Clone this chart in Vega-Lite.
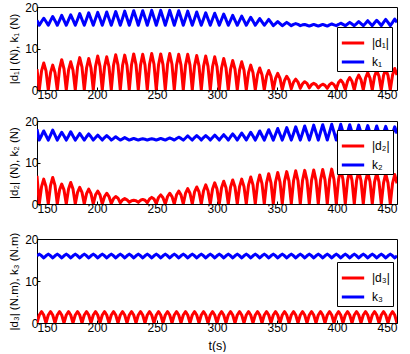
{
"$schema": "https://vega.github.io/schema/vega-lite/v6.json",
"padding": {"left": 8, "top": 0, "right": 0, "bottom": 0},
"spacing": 13,
"config": {
  "font": "Liberation Sans",
  "view": {"stroke": "#000", "strokeWidth": 1},
  "axis": {"grid": false, "domain": false, "ticks": true, "tickSize": -3, "tickColor": "#000", "labelFontSize": 12, "labelColor": "#000", "titleFontSize": 11.5, "titleFontWeight": "normal", "titleColor": "#000", "labelPadding": 2, "titlePadding": 5},
  "legend": {"orient": "none", "title": null, "fillColor": "white", "strokeColor": "#000", "padding": 3, "symbolType": "stroke", "symbolSize": 500, "symbolStrokeWidth": 3, "labelFontSize": 12, "labelColor": "#000", "rowPadding": 0, "labelOffset": 6}
},
"datasets": {
"p1": [
{"t":150,"d":5.0,"k":16.8},{"t":151.9,"d":0,"k":15.6},{"t":153.8,"d":4.6,"k":16.5},{"t":155.6,"d":6.5,"k":17.3},
{"t":157.5,"d":4.6,"k":16.5},{"t":159.4,"d":0,"k":15.6},{"t":161.3,"d":4.2,"k":16.7},{"t":163.1,"d":6.0,"k":17.7},
{"t":165,"d":4.2,"k":16.7},{"t":166.9,"d":0,"k":15.6},{"t":168.8,"d":5.1,"k":16.8},{"t":170.6,"d":7.3,"k":18.0},
{"t":172.5,"d":5.1,"k":16.8},{"t":174.4,"d":0,"k":15.6},{"t":176.3,"d":4.8,"k":16.9},{"t":178.1,"d":6.8,"k":18.1},
{"t":180,"d":4.8,"k":16.9},{"t":181.9,"d":0,"k":15.6},{"t":183.8,"d":5.5,"k":17.0},{"t":185.6,"d":7.8,"k":18.4},
{"t":187.5,"d":5.5,"k":17.0},{"t":189.4,"d":0,"k":15.6},{"t":191.3,"d":5.3,"k":17.1},{"t":193.1,"d":7.6,"k":18.6},
{"t":195,"d":5.3,"k":17.1},{"t":196.9,"d":0,"k":15.6},{"t":198.8,"d":5.7,"k":17.2},{"t":200.6,"d":8.2,"k":18.7},
{"t":202.5,"d":5.7,"k":17.2},{"t":204.4,"d":0,"k":15.6},{"t":206.3,"d":5.6,"k":17.2},{"t":208.1,"d":8.0,"k":18.8},
{"t":210,"d":5.6,"k":17.2},{"t":211.9,"d":0,"k":15.6},{"t":213.8,"d":6.0,"k":17.3},{"t":215.6,"d":8.5,"k":18.9},
{"t":217.5,"d":6.0,"k":17.3},{"t":219.4,"d":0,"k":15.6},{"t":221.3,"d":5.9,"k":17.3},{"t":223.1,"d":8.4,"k":19.0},
{"t":225,"d":5.9,"k":17.3},{"t":226.9,"d":0,"k":15.6},{"t":228.8,"d":6.1,"k":17.4},{"t":230.6,"d":8.7,"k":19.1},
{"t":232.5,"d":6.1,"k":17.4},{"t":234.4,"d":0,"k":15.6},{"t":236.3,"d":6.0,"k":17.4},{"t":238.1,"d":8.6,"k":19.1},
{"t":240,"d":6.0,"k":17.4},{"t":241.9,"d":0,"k":15.6},{"t":243.8,"d":6.2,"k":17.4},{"t":245.6,"d":8.8,"k":19.2},
{"t":247.5,"d":6.2,"k":17.4},{"t":249.4,"d":0,"k":15.6},{"t":251.3,"d":6.1,"k":17.4},{"t":253.1,"d":8.7,"k":19.2},
{"t":255,"d":6.1,"k":17.4},{"t":256.9,"d":0,"k":15.6},{"t":258.8,"d":6.2,"k":17.4},{"t":260.6,"d":8.8,"k":19.2},
{"t":262.5,"d":6.2,"k":17.4},{"t":264.4,"d":0,"k":15.6},{"t":266.3,"d":6.0,"k":17.4},{"t":268.1,"d":8.6,"k":19.1},
{"t":270,"d":6.0,"k":17.4},{"t":271.9,"d":0,"k":15.6},{"t":273.8,"d":6.0,"k":17.3},{"t":275.6,"d":8.6,"k":19.0},
{"t":277.5,"d":6.0,"k":17.3},{"t":279.4,"d":0,"k":15.6},{"t":281.3,"d":5.8,"k":17.2},{"t":283.1,"d":8.3,"k":18.8},
{"t":285,"d":5.8,"k":17.2},{"t":286.9,"d":0,"k":15.6},{"t":288.8,"d":5.7,"k":17.1},{"t":290.6,"d":8.2,"k":18.6},
{"t":292.5,"d":5.7,"k":17.1},{"t":294.4,"d":0,"k":15.6},{"t":296.3,"d":5.6,"k":17.1},{"t":298.1,"d":8.0,"k":18.5},
{"t":300,"d":5.6,"k":17.1},{"t":301.9,"d":0,"k":15.6},{"t":303.8,"d":5.3,"k":17.0},{"t":305.6,"d":7.6,"k":18.3},
{"t":307.5,"d":5.3,"k":17.0},{"t":309.4,"d":0,"k":15.6},{"t":311.3,"d":5.0,"k":16.8},{"t":313.1,"d":7.1,"k":18.0},
{"t":315,"d":5.0,"k":16.8},{"t":316.9,"d":0,"k":15.6},{"t":318.8,"d":4.8,"k":16.7},{"t":320.6,"d":6.8,"k":17.8},
{"t":322.5,"d":4.8,"k":16.7},{"t":324.4,"d":0,"k":15.6},{"t":326.3,"d":4.2,"k":16.6},{"t":328.1,"d":6.0,"k":17.5},
{"t":330,"d":4.2,"k":16.6},{"t":331.9,"d":0,"k":15.6},{"t":333.8,"d":3.7,"k":16.4},{"t":335.6,"d":5.3,"k":17.2},
{"t":337.5,"d":3.7,"k":16.4},{"t":339.4,"d":0,"k":15.6},{"t":341.3,"d":3.3,"k":16.3},{"t":343.1,"d":4.7,"k":17.0},
{"t":345,"d":3.3,"k":16.3},{"t":346.9,"d":0,"k":15.5},{"t":348.8,"d":2.8,"k":16.0},{"t":350.6,"d":4.0,"k":16.5},
{"t":352.5,"d":2.8,"k":16.0},{"t":354.4,"d":0.1,"k":15.5},{"t":356.3,"d":2.3,"k":15.9},{"t":358.1,"d":3.3,"k":16.3},
{"t":360,"d":2.4,"k":15.9},{"t":361.9,"d":0.3,"k":15.5},{"t":363.8,"d":1.9,"k":15.8},{"t":365.6,"d":2.6,"k":16.0},
{"t":367.5,"d":1.9,"k":15.8},{"t":369.4,"d":0.4,"k":15.5},{"t":371.3,"d":1.5,"k":15.7},{"t":373.1,"d":2.0,"k":15.8},
{"t":375,"d":1.6,"k":15.6},{"t":376.9,"d":0.5,"k":15.4},{"t":378.8,"d":1.3,"k":15.6},{"t":380.6,"d":1.6,"k":15.8},
{"t":382.5,"d":1.3,"k":15.6},{"t":384.4,"d":0.5,"k":15.4},{"t":386.3,"d":1.1,"k":15.6},{"t":388.1,"d":1.4,"k":15.8},
{"t":390,"d":1.1,"k":15.6},{"t":391.9,"d":0.4,"k":15.4},{"t":393.8,"d":1.3,"k":15.7},{"t":395.6,"d":1.7,"k":15.9},
{"t":397.5,"d":1.3,"k":15.7},{"t":399.4,"d":0.3,"k":15.5},{"t":401.3,"d":1.8,"k":15.8},{"t":403.1,"d":2.4,"k":16.1},
{"t":405,"d":1.7,"k":15.8},{"t":406.9,"d":0.1,"k":15.5},{"t":408.8,"d":2.1,"k":15.9},{"t":410.6,"d":3.0,"k":16.3},
{"t":412.5,"d":2.1,"k":15.9},{"t":414.4,"d":0,"k":15.5},{"t":416.3,"d":2.5,"k":16.0},{"t":418.1,"d":3.6,"k":16.5},
{"t":420,"d":2.5,"k":16.0},{"t":421.9,"d":0,"k":15.5},{"t":423.8,"d":2.9,"k":16.1},{"t":425.6,"d":4.2,"k":16.7},
{"t":427.5,"d":2.9,"k":16.1},{"t":429.4,"d":0,"k":15.5},{"t":431.3,"d":3.3,"k":16.2},{"t":433.1,"d":4.7,"k":16.8},
{"t":435,"d":3.3,"k":16.2},{"t":436.9,"d":0,"k":15.5},{"t":438.8,"d":3.5,"k":16.3},{"t":440.6,"d":5.0,"k":17.0},
{"t":442.5,"d":3.5,"k":16.3},{"t":444.4,"d":0,"k":15.5},{"t":446.3,"d":3.6,"k":16.3},{"t":448.1,"d":5.2,"k":17.1},
{"t":450,"d":3.6,"k":16.3}
],
"p2": [
{"t":150,"d":6.8,"k":18.0},{"t":151.9,"d":0,"k":15.4},{"t":153.8,"d":4.2,"k":16.5},{"t":155.6,"d":6.0,"k":17.6},
{"t":157.5,"d":4.2,"k":16.5},{"t":159.4,"d":0,"k":15.4},{"t":161.3,"d":4.5,"k":16.6},{"t":163.1,"d":6.4,"k":17.8},
{"t":165,"d":4.5,"k":16.6},{"t":166.9,"d":0,"k":15.4},{"t":168.8,"d":3.4,"k":16.4},{"t":170.6,"d":4.8,"k":17.3},
{"t":172.5,"d":3.4,"k":16.4},{"t":174.4,"d":0,"k":15.4},{"t":176.3,"d":3.6,"k":16.4},{"t":178.1,"d":5.2,"k":17.4},
{"t":180,"d":3.6,"k":16.4},{"t":181.9,"d":0,"k":15.4},{"t":183.8,"d":2.8,"k":16.2},{"t":185.6,"d":4.0,"k":17.0},
{"t":187.5,"d":2.8,"k":16.2},{"t":189.4,"d":0,"k":15.4},{"t":191.3,"d":2.5,"k":16.2},{"t":193.1,"d":3.6,"k":16.9},
{"t":195,"d":2.5,"k":16.2},{"t":196.9,"d":0,"k":15.4},{"t":198.8,"d":2.2,"k":16.0},{"t":200.6,"d":3.1,"k":16.6},
{"t":202.5,"d":2.2,"k":16.0},{"t":204.4,"d":0,"k":15.4},{"t":206.3,"d":1.8,"k":16.0},{"t":208.1,"d":2.6,"k":16.5},
{"t":210,"d":1.8,"k":16.0},{"t":211.9,"d":0.1,"k":15.4},{"t":213.8,"d":1.3,"k":15.8},{"t":215.6,"d":1.8,"k":16.2},
{"t":217.5,"d":1.4,"k":15.8},{"t":219.4,"d":0.3,"k":15.4},{"t":221.3,"d":1.0,"k":15.7},{"t":223.1,"d":1.3,"k":16.0},
{"t":225,"d":1.0,"k":15.7},{"t":226.9,"d":0.4,"k":15.4},{"t":228.8,"d":0.8,"k":15.6},{"t":230.6,"d":0.9,"k":15.8},
{"t":232.5,"d":0.8,"k":15.6},{"t":234.4,"d":0.4,"k":15.4},{"t":236.3,"d":0.9,"k":15.6},{"t":238.1,"d":1.1,"k":15.7},
{"t":240,"d":0.9,"k":15.6},{"t":241.9,"d":0.3,"k":15.4},{"t":243.8,"d":1.2,"k":15.6},{"t":245.6,"d":1.6,"k":15.7},
{"t":247.5,"d":1.2,"k":15.6},{"t":249.4,"d":0.1,"k":15.4},{"t":251.3,"d":1.6,"k":15.6},{"t":253.1,"d":2.2,"k":15.8},
{"t":255,"d":1.5,"k":15.6},{"t":256.9,"d":0,"k":15.4},{"t":258.8,"d":1.8,"k":15.7},{"t":260.6,"d":2.6,"k":15.9},
{"t":262.5,"d":1.8,"k":15.7},{"t":264.4,"d":0,"k":15.4},{"t":266.3,"d":2.2,"k":15.8},{"t":268.1,"d":3.1,"k":16.1},
{"t":270,"d":2.2,"k":15.8},{"t":271.9,"d":0,"k":15.4},{"t":273.8,"d":2.6,"k":15.9},{"t":275.6,"d":3.7,"k":16.4},
{"t":277.5,"d":2.6,"k":15.9},{"t":279.4,"d":0,"k":15.4},{"t":281.3,"d":2.9,"k":16.0},{"t":283.1,"d":4.1,"k":16.5},
{"t":285,"d":2.9,"k":16.0},{"t":286.9,"d":0,"k":15.4},{"t":288.8,"d":3.2,"k":16.0},{"t":290.6,"d":4.6,"k":16.5},
{"t":292.5,"d":3.2,"k":16.0},{"t":294.4,"d":0,"k":15.4},{"t":296.3,"d":3.6,"k":16.0},{"t":298.1,"d":5.1,"k":16.6},
{"t":300,"d":3.6,"k":16.0},{"t":301.9,"d":0,"k":15.4},{"t":303.8,"d":3.9,"k":16.1},{"t":305.6,"d":5.5,"k":16.7},
{"t":307.5,"d":3.9,"k":16.1},{"t":309.4,"d":0,"k":15.4},{"t":311.3,"d":4.1,"k":16.2},{"t":313.1,"d":5.8,"k":16.9},
{"t":315,"d":4.1,"k":16.2},{"t":316.9,"d":0,"k":15.4},{"t":318.8,"d":4.2,"k":16.3},{"t":320.6,"d":6.0,"k":17.1},
{"t":322.5,"d":4.2,"k":16.3},{"t":324.4,"d":0,"k":15.4},{"t":326.3,"d":4.6,"k":16.4},{"t":328.1,"d":6.5,"k":17.3},
{"t":330,"d":4.6,"k":16.4},{"t":331.9,"d":0,"k":15.4},{"t":333.8,"d":4.9,"k":16.5},{"t":335.6,"d":7.0,"k":17.6},
{"t":337.5,"d":4.9,"k":16.5},{"t":339.4,"d":0,"k":15.4},{"t":341.3,"d":5.1,"k":16.7},{"t":343.1,"d":7.3,"k":17.9},
{"t":345,"d":5.1,"k":16.7},{"t":346.9,"d":0,"k":15.4},{"t":348.8,"d":5.3,"k":16.8},{"t":350.6,"d":7.6,"k":18.2},
{"t":352.5,"d":5.3,"k":16.8},{"t":354.4,"d":0,"k":15.4},{"t":356.3,"d":5.5,"k":16.9},{"t":358.1,"d":7.8,"k":18.4},
{"t":360,"d":5.5,"k":16.9},{"t":361.9,"d":0,"k":15.4},{"t":363.8,"d":5.6,"k":17.0},{"t":365.6,"d":8.0,"k":18.6},
{"t":367.5,"d":5.6,"k":17.0},{"t":369.4,"d":0,"k":15.4},{"t":371.3,"d":5.7,"k":17.1},{"t":373.1,"d":8.1,"k":18.8},
{"t":375,"d":5.7,"k":17.1},{"t":376.9,"d":0,"k":15.4},{"t":378.8,"d":5.7,"k":17.2},{"t":380.6,"d":8.2,"k":19.0},
{"t":382.5,"d":5.7,"k":17.2},{"t":384.4,"d":0,"k":15.4},{"t":386.3,"d":5.8,"k":17.3},{"t":388.1,"d":8.3,"k":19.1},
{"t":390,"d":5.8,"k":17.3},{"t":391.9,"d":0,"k":15.4},{"t":393.8,"d":5.9,"k":17.3},{"t":395.6,"d":8.4,"k":19.2},
{"t":397.5,"d":5.9,"k":17.3},{"t":399.4,"d":0,"k":15.4},{"t":401.3,"d":5.9,"k":17.3},{"t":403.1,"d":8.4,"k":19.2},
{"t":405,"d":5.9,"k":17.3},{"t":406.9,"d":0,"k":15.4},{"t":408.8,"d":5.7,"k":17.3},{"t":410.6,"d":8.2,"k":19.1},
{"t":412.5,"d":5.7,"k":17.3},{"t":414.4,"d":0,"k":15.4},{"t":416.3,"d":5.6,"k":17.2},{"t":418.1,"d":8.0,"k":19.0},
{"t":420,"d":5.6,"k":17.2},{"t":421.9,"d":0,"k":15.4},{"t":423.8,"d":5.4,"k":17.2},{"t":425.6,"d":7.7,"k":18.9},
{"t":427.5,"d":5.4,"k":17.2},{"t":429.4,"d":0,"k":15.4},{"t":431.3,"d":5.3,"k":17.1},{"t":433.1,"d":7.5,"k":18.8},
{"t":435,"d":5.3,"k":17.1},{"t":436.9,"d":0,"k":15.4},{"t":438.8,"d":5.1,"k":17.1},{"t":440.6,"d":7.3,"k":18.7},
{"t":442.5,"d":5.1,"k":17.1},{"t":444.4,"d":0,"k":15.4},{"t":446.3,"d":5.0,"k":17.0},{"t":448.1,"d":7.1,"k":18.6},
{"t":450,"d":5.0,"k":17.0}
],
"p3": [
{"t":150,"d":0,"k":16.0},{"t":151.9,"d":1.9,"k":16.4},{"t":153.8,"d":2.7,"k":16.0},{"t":155.6,"d":1.9,"k":15.5},
{"t":157.5,"d":0,"k":16.0},{"t":159.4,"d":1.9,"k":16.4},{"t":161.3,"d":2.7,"k":16.0},{"t":163.1,"d":1.9,"k":15.5},
{"t":165,"d":0,"k":16.0},{"t":166.9,"d":1.9,"k":16.4},{"t":168.8,"d":2.7,"k":16.0},{"t":170.6,"d":1.9,"k":15.5},
{"t":172.5,"d":0,"k":16.0},{"t":174.4,"d":1.9,"k":16.4},{"t":176.3,"d":2.7,"k":16.0},{"t":178.1,"d":1.9,"k":15.5},
{"t":180,"d":0,"k":16.0},{"t":181.9,"d":1.9,"k":16.4},{"t":183.8,"d":2.7,"k":16.0},{"t":185.6,"d":1.9,"k":15.5},
{"t":187.5,"d":0,"k":16.0},{"t":189.4,"d":1.9,"k":16.4},{"t":191.3,"d":2.7,"k":16.0},{"t":193.1,"d":1.9,"k":15.5},
{"t":195,"d":0,"k":16.0},{"t":196.9,"d":1.9,"k":16.4},{"t":198.8,"d":2.7,"k":16.0},{"t":200.6,"d":1.9,"k":15.5},
{"t":202.5,"d":0,"k":16.0},{"t":204.4,"d":1.9,"k":16.4},{"t":206.3,"d":2.7,"k":16.0},{"t":208.1,"d":1.9,"k":15.5},
{"t":210,"d":0,"k":16.0},{"t":211.9,"d":1.9,"k":16.4},{"t":213.8,"d":2.7,"k":16.0},{"t":215.6,"d":1.9,"k":15.5},
{"t":217.5,"d":0,"k":16.0},{"t":219.4,"d":1.9,"k":16.4},{"t":221.3,"d":2.7,"k":16.0},{"t":223.1,"d":1.9,"k":15.5},
{"t":225,"d":0,"k":16.0},{"t":226.9,"d":1.9,"k":16.4},{"t":228.8,"d":2.7,"k":16.0},{"t":230.6,"d":1.9,"k":15.5},
{"t":232.5,"d":0,"k":16.0},{"t":234.4,"d":1.9,"k":16.4},{"t":236.3,"d":2.7,"k":16.0},{"t":238.1,"d":1.9,"k":15.5},
{"t":240,"d":0,"k":16.0},{"t":241.9,"d":1.9,"k":16.4},{"t":243.8,"d":2.7,"k":16.0},{"t":245.6,"d":1.9,"k":15.5},
{"t":247.5,"d":0,"k":16.0},{"t":249.4,"d":1.9,"k":16.4},{"t":251.3,"d":2.7,"k":16.0},{"t":253.1,"d":1.9,"k":15.5},
{"t":255,"d":0,"k":16.0},{"t":256.9,"d":1.9,"k":16.4},{"t":258.8,"d":2.7,"k":16.0},{"t":260.6,"d":1.9,"k":15.5},
{"t":262.5,"d":0,"k":16.0},{"t":264.4,"d":1.9,"k":16.4},{"t":266.3,"d":2.7,"k":16.0},{"t":268.1,"d":1.9,"k":15.5},
{"t":270,"d":0,"k":16.0},{"t":271.9,"d":1.9,"k":16.4},{"t":273.8,"d":2.7,"k":16.0},{"t":275.6,"d":1.9,"k":15.5},
{"t":277.5,"d":0,"k":16.0},{"t":279.4,"d":1.9,"k":16.4},{"t":281.3,"d":2.7,"k":16.0},{"t":283.1,"d":1.9,"k":15.5},
{"t":285,"d":0,"k":16.0},{"t":286.9,"d":1.9,"k":16.4},{"t":288.8,"d":2.7,"k":16.0},{"t":290.6,"d":1.9,"k":15.5},
{"t":292.5,"d":0,"k":16.0},{"t":294.4,"d":1.9,"k":16.4},{"t":296.3,"d":2.7,"k":16.0},{"t":298.1,"d":1.9,"k":15.5},
{"t":300,"d":0,"k":16.0},{"t":301.9,"d":1.9,"k":16.4},{"t":303.8,"d":2.7,"k":16.0},{"t":305.6,"d":1.9,"k":15.5},
{"t":307.5,"d":0,"k":16.0},{"t":309.4,"d":1.9,"k":16.4},{"t":311.3,"d":2.7,"k":16.0},{"t":313.1,"d":1.9,"k":15.5},
{"t":315,"d":0,"k":16.0},{"t":316.9,"d":1.9,"k":16.4},{"t":318.8,"d":2.7,"k":16.0},{"t":320.6,"d":1.9,"k":15.5},
{"t":322.5,"d":0,"k":16.0},{"t":324.4,"d":1.9,"k":16.4},{"t":326.3,"d":2.7,"k":16.0},{"t":328.1,"d":1.9,"k":15.5},
{"t":330,"d":0,"k":16.0},{"t":331.9,"d":1.9,"k":16.4},{"t":333.8,"d":2.7,"k":16.0},{"t":335.6,"d":1.9,"k":15.5},
{"t":337.5,"d":0,"k":16.0},{"t":339.4,"d":1.9,"k":16.4},{"t":341.3,"d":2.7,"k":16.0},{"t":343.1,"d":1.9,"k":15.5},
{"t":345,"d":0,"k":16.0},{"t":346.9,"d":1.9,"k":16.4},{"t":348.8,"d":2.7,"k":16.0},{"t":350.6,"d":1.9,"k":15.5},
{"t":352.5,"d":0,"k":16.0},{"t":354.4,"d":1.9,"k":16.4},{"t":356.3,"d":2.7,"k":16.0},{"t":358.1,"d":1.9,"k":15.5},
{"t":360,"d":0,"k":16.0},{"t":361.9,"d":1.9,"k":16.4},{"t":363.8,"d":2.7,"k":16.0},{"t":365.6,"d":1.9,"k":15.5},
{"t":367.5,"d":0,"k":16.0},{"t":369.4,"d":1.9,"k":16.4},{"t":371.3,"d":2.7,"k":16.0},{"t":373.1,"d":1.9,"k":15.5},
{"t":375,"d":0,"k":16.0},{"t":376.9,"d":1.9,"k":16.4},{"t":378.8,"d":2.7,"k":16.0},{"t":380.6,"d":1.9,"k":15.5},
{"t":382.5,"d":0,"k":16.0},{"t":384.4,"d":1.9,"k":16.4},{"t":386.3,"d":2.7,"k":16.0},{"t":388.1,"d":1.9,"k":15.5},
{"t":390,"d":0,"k":16.0},{"t":391.9,"d":1.9,"k":16.4},{"t":393.8,"d":2.7,"k":16.0},{"t":395.6,"d":1.9,"k":15.5},
{"t":397.5,"d":0,"k":16.0},{"t":399.4,"d":1.9,"k":16.4},{"t":401.3,"d":2.7,"k":16.0},{"t":403.1,"d":1.9,"k":15.5},
{"t":405,"d":0,"k":16.0},{"t":406.9,"d":1.9,"k":16.4},{"t":408.8,"d":2.7,"k":16.0},{"t":410.6,"d":1.9,"k":15.5},
{"t":412.5,"d":0,"k":16.0},{"t":414.4,"d":1.9,"k":16.4},{"t":416.3,"d":2.7,"k":16.0},{"t":418.1,"d":1.9,"k":15.5},
{"t":420,"d":0,"k":16.0},{"t":421.9,"d":1.9,"k":16.4},{"t":423.8,"d":2.7,"k":16.0},{"t":425.6,"d":1.9,"k":15.5},
{"t":427.5,"d":0,"k":16.0},{"t":429.4,"d":1.9,"k":16.4},{"t":431.3,"d":2.7,"k":16.0},{"t":433.1,"d":1.9,"k":15.5},
{"t":435,"d":0,"k":16.0},{"t":436.9,"d":1.9,"k":16.4},{"t":438.8,"d":2.7,"k":16.0},{"t":440.6,"d":1.9,"k":15.5},
{"t":442.5,"d":0,"k":16.0},{"t":444.4,"d":1.9,"k":16.4},{"t":446.3,"d":2.7,"k":16.0},{"t":448.1,"d":1.9,"k":15.5},
{"t":450,"d":0,"k":16.0}
]
},
"resolve": {"scale": {"color": "independent"}, "legend": {"color": "independent"}},
"vconcat": [
{
 "width": 360, "height": 83,
 "data": {"name": "p1"},
 "transform": [{"fold": ["d", "k"], "as": ["s", "v"]}],
 "mark": {"type": "line", "strokeWidth": 3, "strokeJoin": "round", "clip": true},
 "encoding": {
  "x": {"field": "t", "type": "quantitative", "scale": {"domain": [150, 450], "nice": false}, "axis": {"values": [150, 200, 250, 300, 350, 400, 450], "title": null}},
  "y": {"field": "v", "type": "quantitative", "scale": {"domain": [0, 20], "nice": false}, "axis": {"values": [0, 10, 20], "title": "|d₁| (N), k₁ (N)"}},
  "color": {"field": "s", "type": "nominal", "scale": {"domain": ["d", "k"], "range": ["#ff0000", "#0000ff"]}, "legend": {"legendX": 300, "legendY": 20, "labelExpr": "datum.label == 'd' ? '|d₁|' : 'k₁'"}}
 }
},
{
 "spacing": 16,
 "resolve": {"scale": {"color": "independent"}, "legend": {"color": "independent"}},
 "vconcat": [
 {
  "width": 360, "height": 83,
  "data": {"name": "p2"},
  "transform": [{"fold": ["d", "k"], "as": ["s", "v"]}],
  "mark": {"type": "line", "strokeWidth": 3, "strokeJoin": "round", "clip": true},
  "encoding": {
   "x": {"field": "t", "type": "quantitative", "scale": {"domain": [150, 450], "nice": false}, "axis": {"values": [150, 200, 250, 300, 350, 400, 450], "title": null}},
   "y": {"field": "v", "type": "quantitative", "scale": {"domain": [0, 20], "nice": false}, "axis": {"values": [0, 10, 20], "title": "|d₂| (N), k₂ (N)"}},
   "color": {"field": "s", "type": "nominal", "scale": {"domain": ["d", "k"], "range": ["#ff0000", "#0000ff"]}, "legend": {"legendX": 300, "legendY": 9, "labelExpr": "datum.label == 'd' ? '|d₂|' : 'k₂'"}}
  }
 },
 {
  "width": 360, "height": 84,
  "data": {"name": "p3"},
  "transform": [{"fold": ["d", "k"], "as": ["s", "v"]}],
  "mark": {"type": "line", "strokeWidth": 3, "strokeJoin": "round", "clip": true},
  "encoding": {
   "x": {"field": "t", "type": "quantitative", "scale": {"domain": [150, 450], "nice": false}, "axis": {"values": [150, 200, 250, 300, 350, 400, 450], "title": "t(s)", "titleFontSize": 12.5, "titlePadding": 6}},
   "y": {"field": "v", "type": "quantitative", "scale": {"domain": [0, 20], "nice": false}, "axis": {"values": [0, 10, 20], "title": "|d₃| (N.m), k₃ (N.m)"}},
   "color": {"field": "s", "type": "nominal", "scale": {"domain": ["d", "k"], "range": ["#ff0000", "#0000ff"]}, "legend": {"legendX": 300, "legendY": 23, "labelExpr": "datum.label == 'd' ? '|d₃|' : 'k₃'"}}
  }
 }
 ]
}
]
}
